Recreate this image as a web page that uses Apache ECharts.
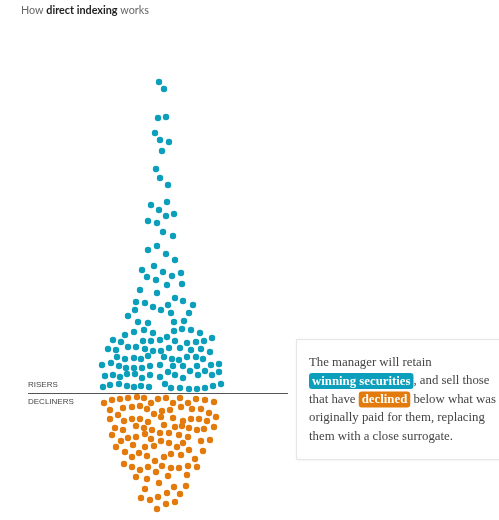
<!DOCTYPE html>
<html lang="en">
<head>
    <meta charset="UTF-8">
    <title>How direct indexing works</title>
    <script src="https://cdn.jsdelivr.net/npm/echarts@6/dist/echarts.min.js"></script>
    <style>
        html, body { margin: 0; padding: 0; background: #fff; }
        #main { width: 499px; height: 520px; }
    </style>
</head>
<body>
<div id="main"></div>
<script>
    // dot positions: [x, y], y grows downward
    const risers = [
        [159,82],[164,89],[158,118],[166,117],[155,133],[160,140],[169,142],[162,151],[156,169],[160,178],[168,185],
        [167,202],[151,205],[159,210],[174,214],[166,216],[148,221],[157,223],[163,232],[173,236],[157,246],[148,250],
        [166,254],[175,260],[142,270],[154,266],[163,272],[181,273],[147,277],[172,276],[156,280],[182,284],[167,285],
        [140,290],[157,293],[175,298],
        [136,302],[145,303],[153,307],[135,310],[128,316],[138,322],[148,323],[134,332],[144,330],[125,335],[153,333],
        [113,340],[121,342],[143,341],[151,341],[108,349],[116,350],[128,347],[136,347],[145,349],[153,351],[117,357],
        [125,359],[134,358],[141,359],[148,356],[102,365],[111,363],[119,366],[126,368],[134,368],[142,368],[150,366],
        [105,376],[113,375],[120,377],[127,374],[135,374],[142,378],[150,375],[103,387],[110,385],[119,384],[127,386],
        [134,387],[141,386],[149,387],
        [183,301],[193,305],[168,305],[161,310],[171,313],[189,313],[174,322],[184,321],[174,331],[182,329],[191,330],
        [200,333],[160,340],[167,337],[175,341],[187,343],[196,342],[204,341],[212,338],[161,351],[169,348],[180,348],
        [191,350],[201,349],[210,352],[164,357],[172,359],[179,360],[187,357],[196,357],[203,359],[160,365],[173,366],
        [183,366],[197,366],[211,365],[219,364],[168,372],[175,375],[183,378],[190,371],[198,375],[205,371],[212,375],
        [219,372],[160,377],[165,384],[171,388],[180,388],[189,389],[197,389],[205,388],[213,386],[221,384]
    ];
    const decliners = [
        [104,403],[112,400],[120,399],[128,398],[137,397],[144,398],[151,403],[158,399],[166,398],[173,403],[180,398],
        [188,403],[196,399],[205,400],[214,402],
        [110,410],[123,408],[132,407],[140,406],[147,409],[154,414],[162,411],[170,410],[181,407],[192,409],[201,409],
        [209,413],[216,417],
        [118,415],[110,419],[124,421],[132,419],[140,419],[148,422],[161,417],[173,418],[183,421],[191,419],[199,419],[207,421],
        [115,428],[123,430],[136,426],[144,428],[152,430],[164,425],[175,427],[182,426],[189,428],[197,430],[204,429],[214,427],
        [112,435],[121,441],[128,438],[136,437],[145,434],[151,439],[160,433],[169,433],[179,435],[188,437],[210,440],
        [116,447],[133,445],[145,447],[154,446],[161,441],[169,443],[177,447],[183,443],[201,441],
        [125,452],[132,457],[139,453],[147,456],[155,461],[164,457],[171,454],[181,455],[189,450],[195,459],[203,451],
        [124,464],[132,467],[140,470],[148,467],[156,472],[162,466],[171,468],[179,468],[188,466],[197,467],
        [136,477],[147,479],[168,476],[187,475],
        [159,483],[145,489],[174,487],[186,486],
        [167,493],[180,494],
        [141,498],[150,500],[158,497],[166,504],[175,502],
        [157,509]
    ];
    const baseline = 393;
    const groupLabels = ['RISERS', 'DECLINERS'];

    const teal = '#0c9fbb';
    const orange = '#e27a0c';

    let myChart = echarts.init(document.getElementById('main'));
    let option = {
        animation: false,
        grid: {left: 0, right: 0, top: 0, bottom: 0},
        xAxis: {type: 'value', min: 0, max: 499, show: false},
        yAxis: {type: 'value', min: 0, max: 520, inverse: true, show: false},
        series: [
            {
                name: 'Risers',
                type: 'scatter',
                symbolSize: 6.4,
                itemStyle: {color: teal, opacity: 1},
                data: risers,
                markLine: {
                    silent: true,
                    symbol: 'none',
                    label: {show: false},
                    lineStyle: {color: '#555', width: 1, type: 'solid'},
                    data: [[{coord: [28, baseline]}, {coord: [288, baseline]}]]
                }
            },
            {
                name: 'Decliners',
                type: 'scatter',
                symbolSize: 6.4,
                itemStyle: {color: orange, opacity: 1},
                data: decliners
            }
        ],
        graphic: [
            {
                type: 'text', left: 21, top: 5,
                style: {
                    text: '{n|How }{b|direct indexing}{n| works}',
                    rich: {
                        n: {fontFamily: 'Lato, Liberation Sans', fontSize: 10.8, fill: '#666'},
                        b: {fontFamily: 'Lato, Liberation Sans', fontSize: 10.8, fontWeight: 'bold', fill: '#222'}
                    }
                }
            },
            {
                type: 'text', left: 28, top: 381,
                style: {text: groupLabels[0], fontFamily: 'Liberation Sans Narrow, Liberation Sans', fontSize: 8, fill: '#444'}
            },
            {
                type: 'text', left: 28, top: 398,
                style: {text: groupLabels[1], fontFamily: 'Liberation Sans Narrow, Liberation Sans', fontSize: 8, fill: '#444'}
            },
            {
                type: 'rect',
                shape: {x: 296.5, y: 339.5, width: 215, height: 120},
                style: {fill: '#fff', stroke: '#e6e6e6', lineWidth: 1, shadowBlur: 4, shadowColor: 'rgba(0,0,0,0.06)'}
            },
            {
                type: 'text', left: 309, top: 353,
                style: {
                    text: 'The manager will retain\n{w|winning securities}, and sell those\nthat have {d|declined} below what was\noriginally paid for them, replacing\nthem with a close surrogate.',
                    fontFamily: 'Liberation Serif, serif',
                    fontSize: 12.8,
                    lineHeight: 18.6,
                    fill: '#444',
                    rich: {
                        w: {
                            fontFamily: 'Liberation Serif, serif', fontSize: 12.8, fontWeight: 'bold',
                            fill: '#fff', backgroundColor: teal, borderRadius: 3,
                            padding: [2, 3, 1, 3], lineHeight: 18.6
                        },
                        d: {
                            fontFamily: 'Liberation Serif, serif', fontSize: 12.8, fontWeight: 'bold',
                            fill: '#fff', backgroundColor: orange, borderRadius: 3,
                            padding: [2, 3, 1, 3], lineHeight: 18.6
                        }
                    }
                }
            }
        ]
    };
    myChart.setOption(option);
</script>
</body>
</html>
